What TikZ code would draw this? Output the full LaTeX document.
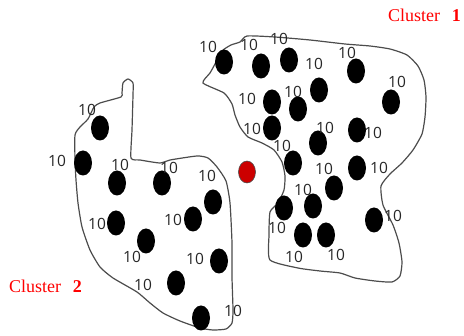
\documentclass[tikz,border=0pt]{standalone}
\usepackage{fontspec}
\setmainfont{Liberation Serif}
\newfontfamily\numfont{Open Sans}
\usetikzlibrary{shapes.geometric}
\tikzset{
    blob/.style={ellipse, fill=black, minimum width=18pt, minimum height=25pt, inner sep=0pt},
    seed/.style={ellipse, fill=red!80!black, draw=black!70, line width=0.6pt, minimum width=17pt, minimum height=22pt, inner sep=0pt},
    val/.style={font=\numfont\fontsize{15.5}{16}\selectfont, text=black!85, inner sep=0pt},
    hull/.style={draw=black!70, line width=1.2pt},
    tag/.style={text=red, font=\fontsize{18}{20}\selectfont, anchor=base west, inner sep=0pt}
}
\begin{document}
\begin{tikzpicture}[x=1pt,y=-1pt]
    \useasboundingbox (0,0) rectangle (464,336);
        % outline of the upper right group
        \draw[hull] plot[smooth cycle, tension=0.35] coordinates {
            (247,36) (275,37) (310,40) (345,44) (370,46) (390,49) (407,55)
            (418,66) (424,80) (426,97) (425,117) (422,134) (413,150) (402,163)
            (390,174) (381,186) (383,205) (393,225) (399,243) (402,262) (400,276)
            (392,282) (375,281) (355,278) (340,273) (320,271) (298,268) (270,260)
            (269,235) (270,212) (278,203) (284,190) (285,176) (282,162) (274,150)
            (262,143) (248,137) (240,127) (235,115) (232,104) (224,93) (203,83)
            (210,73) (215,64) (222,51) (231,45) (240,42)};
        % outline of the lower left group
        \draw[hull] plot[smooth cycle, tension=0.35] coordinates {
            (122,93) (123,83) (128,79) (133,83) (133,95) (132,130) (131,158)
            (140,160) (160,163) (170,160) (197,156) (208,158) (217,167) (226,181)
            (230,203) (232,243) (232,277) (233,310) (232,323) (226,329) (213,330)
            (200,328) (180,321) (163,313) (150,303) (137,292) (113,278) (100,267)
            (90,250) (82,227) (78,203) (76,180) (75,160) (75,135) (80,127)
            (88,119) (94,107) (100,103) (121,97)};

        \node[seed] (c) at (247,172) {};

        \node[blob] (r1) at (224,62) {};
            \node[val] (r1v) at (208,47) {10};
        \node[blob] (r2) at (261,66) {};
            \node[val] (r2v) at (249,45) {10};
        \node[blob] (r3) at (289,60) {};
            \node[val] (r3v) at (279,39) {10};
        \node[blob] (r4) at (319,90) {};
            \node[val] (r4v) at (314,64) {10};
        \node[blob] (r5) at (356,71) {};
            \node[val] (r5v) at (347,53) {10};
        \node[blob] (r6) at (391,102) {};
            \node[val] (r6v) at (397,82) {10};
        \node[blob] (r7) at (272,102) {};
            \node[val] (r7v) at (247,99) {10};
        \node[blob] (r8) at (298,109) {};
            \node[val] (r8v) at (293,92) {10};
        \node[blob] (r9) at (272,128) {};
            \node[val] (r9v) at (252,129) {10};
        \node[blob] (r10) at (318,143) {};
            \node[val] (r10v) at (325,128) {10};
        \node[blob] (r11) at (357,130) {};
            \node[val] (r11v) at (373,133) {10};
        \node[blob] (r12) at (293,163) {};
            \node[val] (r12v) at (282,146) {10};
        \node[blob] (r13) at (357,168) {};
            \node[val] (r13v) at (379,168) {10};
        \node[blob] (r14) at (334,188) {};
            \node[val] (r14v) at (324,169) {10};
        \node[blob] (r15) at (284,208) {};
            \node[val] (r15v) at (277,228) {10};
        \node[blob] (r16) at (313,206) {};
            \node[val] (r16v) at (303,190) {10};
        \node[blob] (r17) at (303,235) {};
            \node[val] (r17v) at (294,257) {10};
        \node[blob] (r18) at (326,235) {};
            \node[val] (r18v) at (336,255) {10};
        \node[blob] (r19) at (374,220) {};
            \node[val] (r19v) at (393,216) {10};

        \node[blob] (l1) at (100,128) {};
            \node[val] (l1v) at (87,110) {10};
        \node[blob] (l2) at (83,163) {};
            \node[val] (l2v) at (57,161) {10};
        \node[blob] (l3) at (117,183) {};
            \node[val] (l3v) at (120,165) {10};
        \node[blob] (l4) at (162,183) {};
            \node[val] (l4v) at (169,168) {10};
        \node[blob] (l5) at (213,202) {};
            \node[val] (l5v) at (207,176) {10};
        \node[blob] (l6) at (116,223) {};
            \node[val] (l6v) at (97,224) {10};
        \node[blob] (l7) at (193,219) {};
            \node[val] (l7v) at (173,220) {10};
        \node[blob] (l8) at (146,241) {};
            \node[val] (l8v) at (132,257) {10};
        \node[blob] (l9) at (219,261) {};
            \node[val] (l9v) at (195,259) {10};
        \node[blob] (l10) at (176,283) {};
            \node[val] (l10v) at (143,285) {10};
        \node[blob] (l11) at (201,318) {};
            \node[val] (l11v) at (233,311) {10};

        \node[tag] (k1) at (388,22) {Cluster\hspace{0.65em}\textbf{1}};
        \node[tag] (k2) at (9,293) {Cluster\hspace{0.65em}\textbf{2}};
\end{tikzpicture}
\end{document}
